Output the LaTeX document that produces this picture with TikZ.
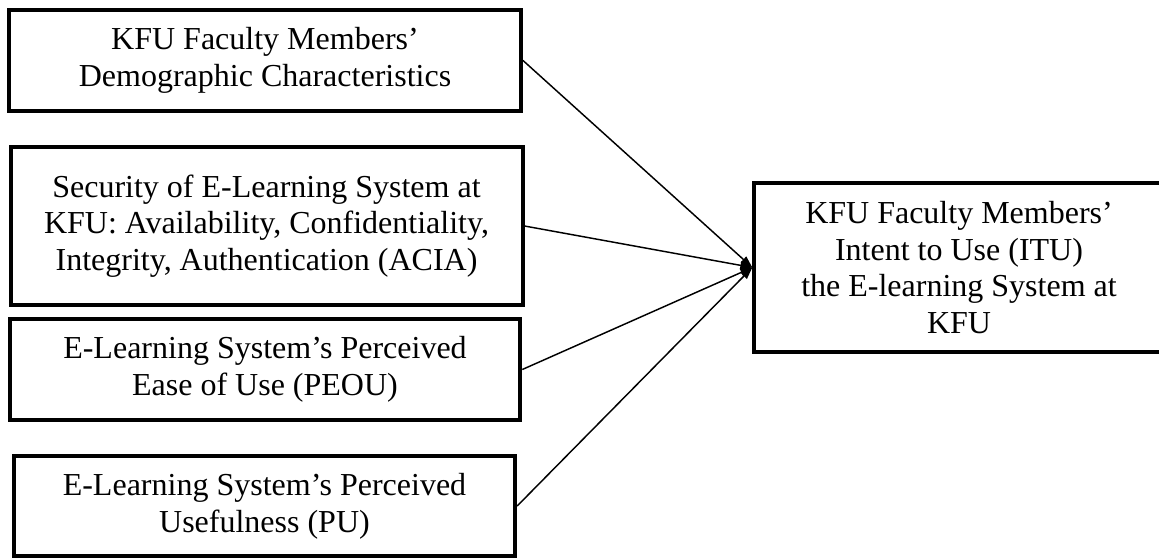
\documentclass[tikz,border=0pt]{standalone}
\usepackage{fontspec}
\setmainfont{Liberation Serif}
\usepackage{tikz}
\usetikzlibrary{positioning}
\usetikzlibrary{arrows.meta}
\tikzset{
	facteur/.style={draw, line width=3pt, align=center, inner sep=0pt, font=\fontsize{24pt}{27.5pt}\selectfont},
	fleche/.style={line width=1.1pt, -{Triangle[length=9pt,width=6pt]}}
}

\begin{document}
\begin{tikzpicture}[x=0.75pt,y=-0.75pt]
	\def\largeur{1159}
	\def\hauteur{559}
\useasboundingbox (0,0) rectangle (\largeur,\hauteur);
\clip (0,0) rectangle (\largeur,\hauteur); % la boite de droite sort du cadre

%Facteurs a gauche
\node[facteur, minimum width=384pt, minimum height=76pt] (demo) at (265,60.5) {KFU Faculty Members’\\Demographic Characteristics};
\node[facteur, minimum width=384pt, minimum height=119pt] (secu) at (266.5,226) {Security of E-Learning System at\\KFU: Availability, Confidentiality,\\Integrity, Authentication (ACIA)};
\node[facteur, minimum width=383pt, minimum height=76pt] (peou) at (265,369.5) {E-Learning System’s Perceived\\Ease of Use (PEOU)};
\node[facteur, minimum width=376pt, minimum height=75pt] (pu) at (264.5,506) {E-Learning System’s Perceived\\Usefulness (PU)};

%Intention
\node[facteur, minimum width=307pt, minimum height=126pt] (itu) at (959,267.5) {KFU Faculty Members’\\Intent to Use (ITU)\\the E-learning System at\\KFU};

%Fleches
\foreach \src in {demo,secu,peou,pu} {
	\draw[fleche] (\src.east) -- (itu.west);
}

\end{tikzpicture}
\end{document}
